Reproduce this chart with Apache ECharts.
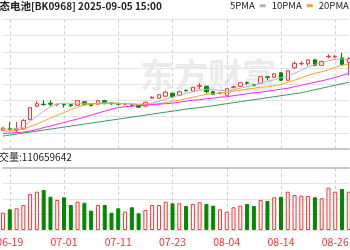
<!DOCTYPE html>
<html><head><meta charset="utf-8">
<script src="https://cdn.jsdelivr.net/npm/echarts@6/dist/echarts.min.js"></script>
<style>html,body{margin:0;padding:0;background:#fff}#c{width:350px;height:250px}</style>
</head><body><div id="c"></div>
<script>
const dates = ['06-18','06-19','06-20','06-23','06-24','06-25','06-26','06-27','06-30','07-01','07-02','07-03','07-04','07-07','07-08','07-09','07-10','07-11','07-14','07-15','07-16','07-17','07-18','07-21','07-22','07-23','07-24','07-25','07-28','07-29','07-30','07-31','08-01','08-04','08-05','08-06','08-07','08-08','08-11','08-12','08-13','08-14','08-15','08-18','08-19','08-20','08-21','08-22','08-25','08-26','08-27','08-28'];
const opens  = [1078,1081,1078,1080,1099,1126,1130,1132,1129,1130,1129,1128,1135,1131,1130,1137,1132,1131,1130,1129,1127,1126,1142,1142,1146,1152,1148,1158,1156,1166,1166,1155,1152,1148,1164,1166,1173,1169,1172,1185,1184,1193,1178,1203,1211,1211,1219,1208,1225,1225,1223,1214];
const closes = [1082,1079,1080,1097,1123,1131,1129,1130,1130,1129,1127,1137,1130,1127,1137,1131,1131,1130,1131,1128,1124,1134,1144,1149,1154,1145,1155,1157,1164,1167,1155,1150,1153,1161,1165,1173,1172,1167,1185,1184,1191,1178,1197,1212,1212,1219,1208,1216,1226,1226,1210,1222];
const lows   = [1076,1076,1074,1078,1098,1124,1127,1126,1126,1123,1124,1127,1129,1126,1129,1130,1128,1127,1128,1124,1123,1125,1141,1141,1145,1143,1146,1155,1155,1160,1151,1148,1150,1147,1162,1165,1169,1166,1171,1178,1183,1177,1177,1201,1208,1207,1206,1207,1222,1222,1208,1188];
const highs  = [1084,1094,1094,1100,1124,1136,1138,1138,1130,1130,1130,1138,1136,1132,1138,1139,1134,1133,1133,1130,1128,1135,1146,1150,1157,1153,1156,1159,1165,1172,1167,1157,1155,1162,1167,1174,1176,1170,1186,1185,1192,1194,1198,1216,1216,1220,1220,1217,1230,1229,1233,1224];
const volumes = [55.8,66.8,70,80.6,116,123.5,129,107.4,96.8,105.5,80.6,91.3,88,62.3,80.6,80.6,55.8,70,59,73.2,53.9,64.5,80.6,80.6,91.3,86.1,86.1,77.4,83.9,89.4,83.9,78.4,66.8,59,73.2,78.4,83.9,77.4,96.8,93.6,105.5,107.4,123.5,112.9,110.7,109.7,105.5,102.3,136.5,123.5,132.3,123.5];
const ma5  = [1080,1080,1081,1084,1096,1106,1116,1125,1130,1132,1132,1132,1132,1131,1132,1133,1133,1132,1131,1130,1129,1129,1132,1136,1140,1144,1148,1152,1155,1158,1160,1159,1158,1157,1159,1162,1165,1168,1172,1176,1179,1183,1186,1192,1198,1205,1210,1213,1217,1220,1221,1220];
const ma10 = [1076,1076,1078,1080,1085,1090,1096,1102,1108,1113,1119,1124,1128,1130,1131,1131,1131,1131,1131,1131,1130,1130,1130,1131,1133,1136,1138,1141,1144,1147,1150,1151,1153,1154,1156,1158,1160,1162,1164,1165,1167,1170,1174,1178,1183,1188,1192,1195,1199,1204,1208,1211];
const ma20 = [1071,1072,1073,1074,1076,1079,1083,1086,1090,1093,1097,1100,1104,1108,1112,1116,1120,1123,1125,1126,1127,1128,1129,1130,1131,1132,1134,1136,1138,1139,1141,1142,1144,1145,1147,1149,1151,1153,1154,1156,1158,1160,1162,1165,1168,1171,1174,1177,1180,1184,1188,1192];
const ma30 = [1066,1068,1070,1072,1074,1076,1078,1080,1082,1084,1086,1088,1090,1092,1094,1096,1098,1100,1102,1104,1106,1108,1110,1112,1114,1116,1118,1120,1122,1123,1125,1127,1129,1131,1133,1135,1137,1139,1141,1143,1145,1147,1149,1151,1153,1156,1159,1162,1165,1168,1171,1174];
const titleName = '固态电池';
const titleRest = '[BK0968] 2025-09-05 15:00';
const volLabel = '成交量:110659642';
const maNames = ['5PMA','10PMA','20PMA','30PMA'];
const maColors = ['#b4b4b4','#f5a623','#ff22ff','#3a9a5a'];

const RED = '#ff3030', GREEN = '#008a00';
const kdata = dates.map((d,i)=>[opens[i],closes[i],lows[i],highs[i]]);
const vdata = volumes.map((v,i)=>{
  const up = closes[i] >= opens[i];
  return {value: v, itemStyle: {color: up ? '#fff' : GREEN, borderColor: up ? RED : GREEN, borderWidth: 1}};
});
const font = '"Noto Sans CJK SC", sans-serif';
const labelInterval = (idx) => (idx - 1) % 8 === 0;

const chart = echarts.init(document.getElementById('c'), null, {renderer:'canvas'});
chart.setOption({
  animation: false,
  backgroundColor: '#fff',
  title: {
    text: '{a|' + titleName + '}{b|' + titleRest + '}',
    left: -11, top: 1, padding: 0,
    textStyle: {rich: {a: {fontFamily: font, fontSize: 10.5, color: '#222'}, b: {fontFamily: font, fontSize: 10, color: '#222'}}}
  },
  legend: {
    data: maNames.map((n, k) => ({name: n, icon: 'rect', itemStyle: {color: maColors[k], borderWidth: 0, opacity: 1}})),
    left: 230, top: 1, width: 600, padding: 0, align: 'right', orient: 'horizontal',
    itemWidth: 6, itemHeight: 3, itemGap: 6,
    textStyle: {fontFamily: font, fontSize: 9.5, color: '#222'},
    selectedMode: false
  },
  graphic: [
    {type: 'text', left: -11, top: 152, style: {text: volLabel, font: '10px ' + font, fill: '#222'}},
    {type: 'text', left: 140, top: 58, z: -1, style: {text: '东方财富', font: 'bold 34px ' + font, fill: '#ebebeb'}}
  ],
  grid: [
    {left: 3, right: 1.2, top: 19.5, height: 129.5, containLabel: false, outerBoundsMode: 'none'},
    {left: 3, right: 1.2, top: 168, height: 62, containLabel: false, outerBoundsMode: 'none'}
  ],
  xAxis: [
    {type: 'category', gridIndex: 0, data: dates, boundaryGap: false,
     axisLine: {show: true, lineStyle: {color: '#c8c8c8', width: 2}}, axisTick: {show: false}, axisLabel: {show: false},
     splitLine: {show: true, interval: labelInterval, lineStyle: {color: '#cfcfcf', type: [3, 3], width: 1}}},
    {type: 'category', gridIndex: 1, data: dates, boundaryGap: false,
     axisLine: {show: false}, axisTick: {show: false},
     axisLabel: {show: true, interval: labelInterval, color: RED, fontFamily: font, fontSize: 10.5, margin: 7, alignMinLabel: 'center', alignMaxLabel: 'center', hideOverlap: false},
     splitLine: {show: true, interval: labelInterval, lineStyle: {color: '#cfcfcf', type: [3, 3], width: 1}}},
    {type: 'category', gridIndex: 1, data: dates, boundaryGap: false, position: 'top',
     axisLine: {show: true, lineStyle: {color: '#c8c8c8', width: 2}}, axisTick: {show: false}, axisLabel: {show: false}, splitLine: {show: false}}
  ],
  yAxis: [
    {type: 'value', gridIndex: 0, min: 1040, max: 1300, interval: 32.5, axisLabel: {show: false}, axisLine: {show: false}, axisTick: {show: false},
     splitLine: {lineStyle: {color: '#e4e4e4'}}},
    {type: 'value', gridIndex: 1, min: 0, max: 200, interval: 50, axisLabel: {show: false}, axisLine: {show: false}, axisTick: {show: false},
     splitLine: {lineStyle: {color: '#e4e4e4'}}}
  ],
  series: [
    {type: 'candlestick', xAxisIndex: 0, yAxisIndex: 0, data: kdata, barWidth: 4, clip: false,
     itemStyle: {color: '#fff', color0: GREEN, borderColor: RED, borderColor0: GREEN, borderWidth: 1}},
    ...maNames.map((n, k) => ({
      name: n, type: 'line', xAxisIndex: 0, yAxisIndex: 0, data: [ma5, ma10, ma20, ma30][k],
      showSymbol: false, symbol: 'none', clip: false, lineStyle: {width: 1, color: maColors[k]}, itemStyle: {color: maColors[k]}, z: 3
    })),
    {type: 'bar', xAxisIndex: 1, yAxisIndex: 1, data: vdata, barWidth: 4, clip: false}
  ]
});
</script></body></html>
